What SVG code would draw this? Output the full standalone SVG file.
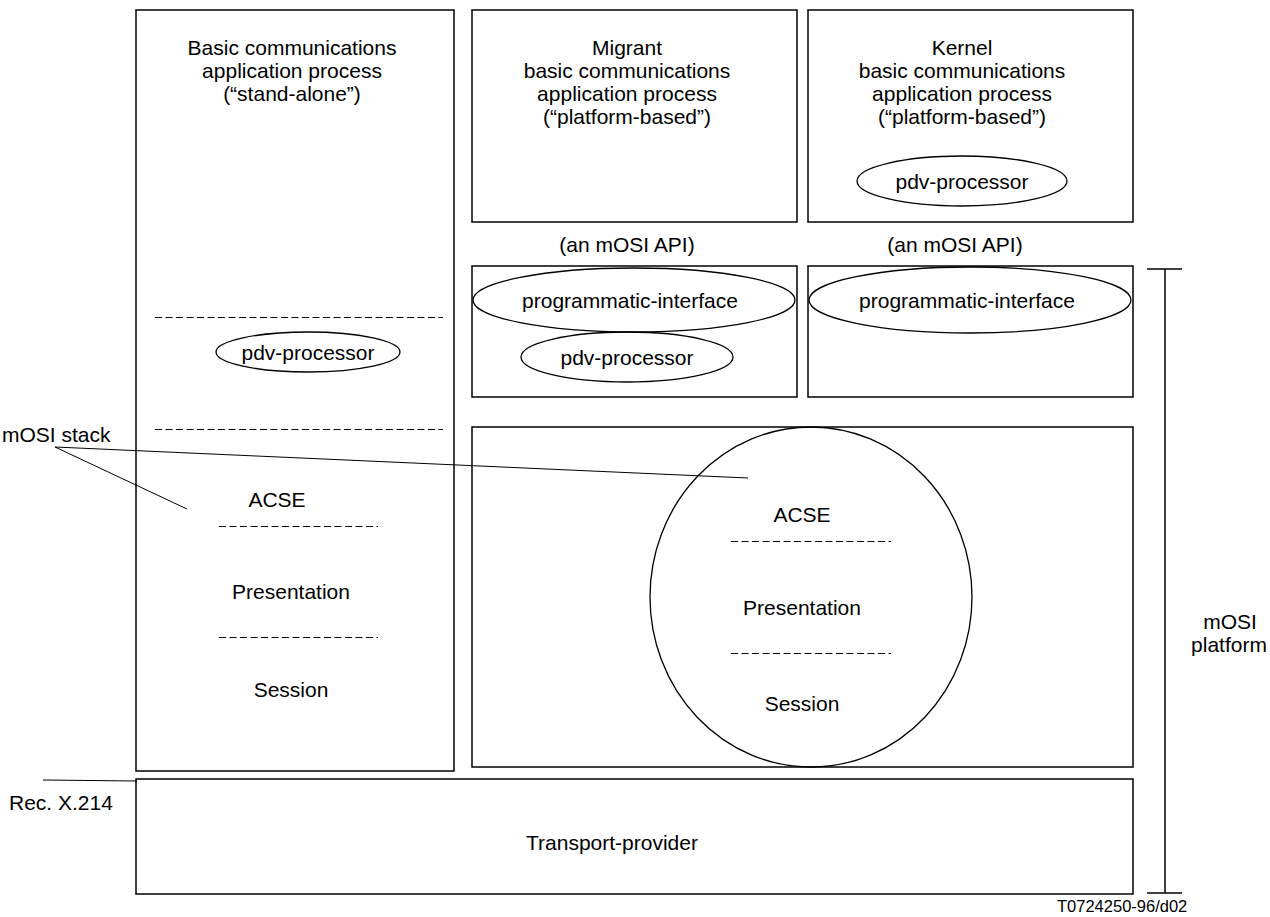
<svg xmlns="http://www.w3.org/2000/svg" width="1270" height="917" viewBox="0 0 1270 917">
<style>
.b{fill:none;stroke:#000;stroke-width:1.5}
.e{fill:none;stroke:#000;stroke-width:1.3}
.d{stroke:#000;stroke-width:1;stroke-dasharray:7,3.5;fill:none}
.l{stroke:#000;stroke-width:1;fill:none}
text{font-family:"Liberation Sans",Arial,sans-serif;font-size:21px;fill:#000}
.c{text-anchor:middle}
</style>
<rect width="1270" height="917" fill="#fff"/>
<g id="standalone">
<rect class="b" x="136" y="10" width="318" height="761"/>
<text class="c" x="292" y="55">Basic communications</text>
<text class="c" x="292" y="78">application process</text>
<text class="c" x="292" y="101">(“stand-alone”)</text>
<line class="d" x1="155" y1="317.5" x2="443" y2="317.5"/>
<line class="d" x1="155" y1="429.5" x2="443" y2="429.5"/>
<ellipse class="e" cx="308" cy="352" rx="92" ry="20"/>
<text class="c" x="308" y="360">pdv-processor</text>
<text class="c" x="277" y="507">ACSE</text>
<line class="d" x1="219" y1="526.5" x2="378" y2="526.5"/>
<text class="c" x="291" y="599">Presentation</text>
<line class="d" x1="219" y1="637.5" x2="378" y2="637.5"/>
<text class="c" x="291" y="697">Session</text>
</g>
<g id="migrant">
<rect class="b" x="472" y="10" width="325" height="212"/>
<text class="c" x="627" y="55">Migrant</text>
<text class="c" x="627" y="78">basic communications</text>
<text class="c" x="627" y="101">application process</text>
<text class="c" x="627" y="124">(“platform-based”)</text>
</g>
<g id="kernel">
<rect class="b" x="808" y="10" width="325" height="212"/>
<text class="c" x="962" y="55">Kernel</text>
<text class="c" x="962" y="78">basic communications</text>
<text class="c" x="962" y="101">application process</text>
<text class="c" x="962" y="124">(“platform-based”)</text>
<ellipse class="e" cx="962" cy="181" rx="105" ry="25"/>
<text class="c" x="962" y="189">pdv-processor</text>
</g>
<text class="c" x="627" y="252">(an mOSI API)</text>
<text class="c" x="955" y="252">(an mOSI API)</text>
<g id="migrant-api">
<rect class="b" x="472" y="266" width="325" height="131"/>
<ellipse class="e" cx="627" cy="357" rx="106" ry="25"/>
<text class="c" x="627" y="365">pdv-processor</text>
<ellipse class="e" cx="634" cy="300" rx="161" ry="32"/>
<text class="c" x="630" y="308">programmatic-interface</text>
</g>
<g id="kernel-api">
<rect class="b" x="808" y="266" width="325" height="131"/>
<ellipse class="e" cx="970" cy="300" rx="161" ry="33"/>
<text class="c" x="967" y="308">programmatic-interface</text>
</g>
<g id="platform-stack">
<rect class="b" x="472" y="427" width="661" height="340"/>
<ellipse class="e" cx="811" cy="597" rx="161" ry="170"/>
<text class="c" x="802" y="522">ACSE</text>
<line class="d" x1="731" y1="541.5" x2="891" y2="541.5"/>
<text class="c" x="802" y="615">Presentation</text>
<line class="d" x1="731" y1="653.5" x2="891" y2="653.5"/>
<text class="c" x="802" y="711">Session</text>
</g>
<g id="transport">
<rect class="b" x="136" y="779" width="997" height="115"/>
<text class="c" x="612" y="850">Transport-provider</text>
</g>
<g id="connectors">
<line class="l" x1="55" y1="447" x2="748" y2="478"/>
<line class="l" x1="55" y1="447" x2="187" y2="509"/>
<line class="l" x1="43" y1="780" x2="137" y2="781"/>
<line class="b" x1="1165" y1="269" x2="1165" y2="893"/>
<line class="b" x1="1147" y1="269" x2="1182" y2="269"/>
<line class="b" x1="1147" y1="893" x2="1182" y2="893"/>
</g>
<text x="2" y="442">mOSI stack</text>
<text x="9" y="810">Rec. X.214</text>
<text class="c" x="1230" y="629">mOSI</text>
<text class="c" x="1229" y="652">platform</text>
<text x="1057" y="912" style="font-size:16.5px">T0724250-96/d02</text>
</svg>
